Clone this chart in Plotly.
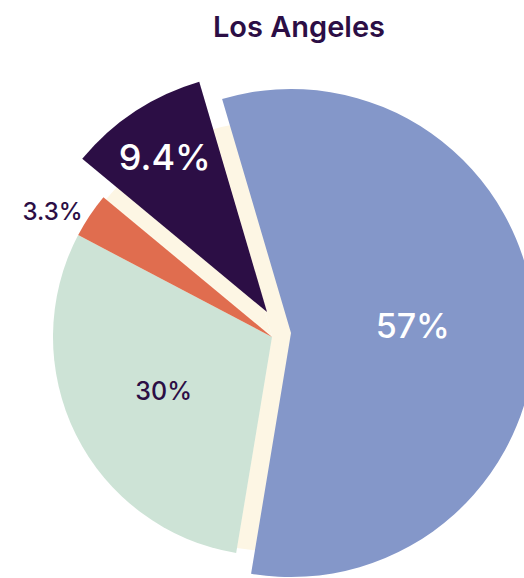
import plotly.graph_objects as go

# ---- data ----
labels = ["Segment A", "Segment B", "Segment C", "Segment D"]
values = [57, 30, 3.3, 9.4]
value_text = ["57%", "30%", "3.3%", "9.4%"]
colors = ["#8497c9", "#cde3d6", "#e06d4f", "#2c0e45"]
title_text = "Los Angeles"

# ---- layout geometry (pixels) ----
W, H = 560, 578
DARK = "#2c0e45"
CREAM = "#fdf6e4"
CLEAR = "rgba(0,0,0,0)"
ROT = -16.4
FONT = "Inter"


def dom(cx, cy, r):
    return dict(x=[(cx - r) / W, (cx + r) / W],
                y=[1 - (cy + r) / H, 1 - (cy - r) / H])


def pie_layer(show, center, radius, textpos, tsize, tcolor):
    cols = [colors[i] if i in show else CLEAR for i in range(len(values))]
    return go.Pie(
        labels=labels, values=values, sort=False, direction="clockwise",
        rotation=ROT, domain=dom(*center, radius),
        marker=dict(colors=cols, line=dict(width=0)),
        text=value_text, textinfo="text", textposition=textpos,
        insidetextorientation="horizontal",
        textfont=dict(family=FONT, size=tsize, color=tcolor, weight=500),
        hoverinfo="label+text", showlegend=False,
    )


fig = go.Figure()

# cream base disc (all slices cream, unpulled)
fig.add_trace(go.Pie(
    labels=labels, values=values, sort=False, direction="clockwise",
    rotation=ROT, domain=dom(272, 336, 215),
    marker=dict(colors=[CREAM] * len(values), line=dict(width=0)),
    textinfo="none", hoverinfo="skip", showlegend=False,
))

# unpulled slices (green, orange)
fig.add_trace(pie_layer(
    show=[1, 2], center=(272, 337), radius=219,
    textpos=["none", "inside", "outside", "none"],
    tsize=[10, 25, 24, 10], tcolor=[DARK, DARK, DARK, DARK]))

# blue slice, shifted
fig.add_trace(pie_layer(
    show=[0], center=(291, 333), radius=244,
    textpos=["inside", "none", "none", "none"],
    tsize=[34, 10, 10, 10], tcolor=["white"] * 4))

# purple slice, pulled out
fig.add_trace(pie_layer(
    show=[3], center=(267, 312), radius=240,
    textpos=["none", "none", "none", "inside"],
    tsize=[36, 10, 10, 36], tcolor=["white"] * 4))

fig.update_layout(
    width=W, height=H,
    margin=dict(l=0, r=0, t=0, b=0),
    paper_bgcolor="white", plot_bgcolor="white",
    title=dict(text=title_text, x=299 / W, xanchor="center",
               y=1 - 27 / H, yanchor="middle",
               font=dict(family=FONT, size=29, color=DARK, weight=600)),
)

fig.write_html("out.html",
               config={"displayModeBar": False},
               post_script="document.body.style.margin='0';"
                           "document.body.style.overflow='hidden';")
